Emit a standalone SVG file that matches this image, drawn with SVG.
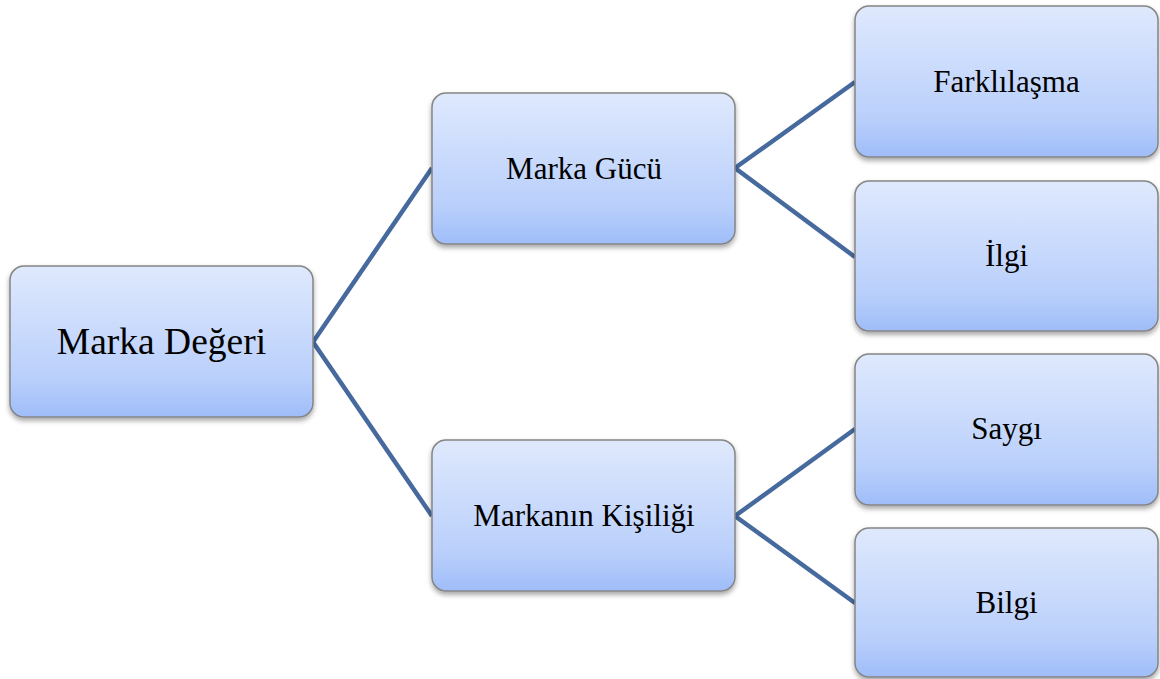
<svg xmlns="http://www.w3.org/2000/svg" width="1160" height="679" viewBox="0 0 1160 679">
<defs>
<linearGradient id="g" x1="0" y1="0" x2="0" y2="1">
<stop offset="0" stop-color="#dfe9fd"/>
<stop offset="0.75" stop-color="#b9cffb"/>
<stop offset="1" stop-color="#9fbdf9"/>
</linearGradient>
<filter id="sh" x="-10%" y="-10%" width="120%" height="130%">
<feDropShadow dx="0" dy="3" stdDeviation="2.5" flood-color="#000" flood-opacity="0.35"/>
</filter>
</defs>
<style>
.box{fill:url(#g);stroke:#858585;stroke-width:1.5;filter:url(#sh)}
.t{font-family:"Liberation Serif","Times New Roman",serif;fill:#000;text-anchor:middle;font-size:31px}
.c{stroke:#46699e;stroke-width:4.5;fill:none;stroke-linejoin:miter}
</style>
<rect width="1160" height="679" fill="#fff"/>
<g id="connectors">
<polyline class="c" points="432,168 313,342 432,516"/>
<polyline class="c" points="855,82 735,168 855,257"/>
<polyline class="c" points="855,429 735,516 855,603"/>
</g>
<g id="n-root">
<rect class="box" x="10" y="266" width="303" height="151" rx="14"/>
<text class="t" x="161.5" y="354" style="font-size:37.5px">Marka Değeri</text>
</g>
<g id="n-guc">
<rect class="box" x="432" y="93" width="303" height="151" rx="14"/>
<text class="t" x="584" y="179">Marka Gücü</text>
</g>
<g id="n-kisilik">
<rect class="box" x="432" y="440" width="303" height="151" rx="14"/>
<text class="t" x="584" y="526">Markanın Kişiliği</text>
</g>
<g id="n-fark">
<rect class="box" x="855" y="6" width="303" height="151" rx="14"/>
<text class="t" x="1006.5" y="92">Farklılaşma</text>
</g>
<g id="n-ilgi">
<rect class="box" x="855" y="181" width="303" height="150" rx="14"/>
<text class="t" x="1006.5" y="266">İlgi</text>
</g>
<g id="n-saygi">
<rect class="box" x="855" y="354" width="303" height="151" rx="14"/>
<text class="t" x="1006.5" y="439">Saygı</text>
</g>
<g id="n-bilgi">
<rect class="box" x="855" y="528" width="303" height="149" rx="14"/>
<text class="t" x="1006.5" y="613">Bilgi</text>
</g>
</svg>
